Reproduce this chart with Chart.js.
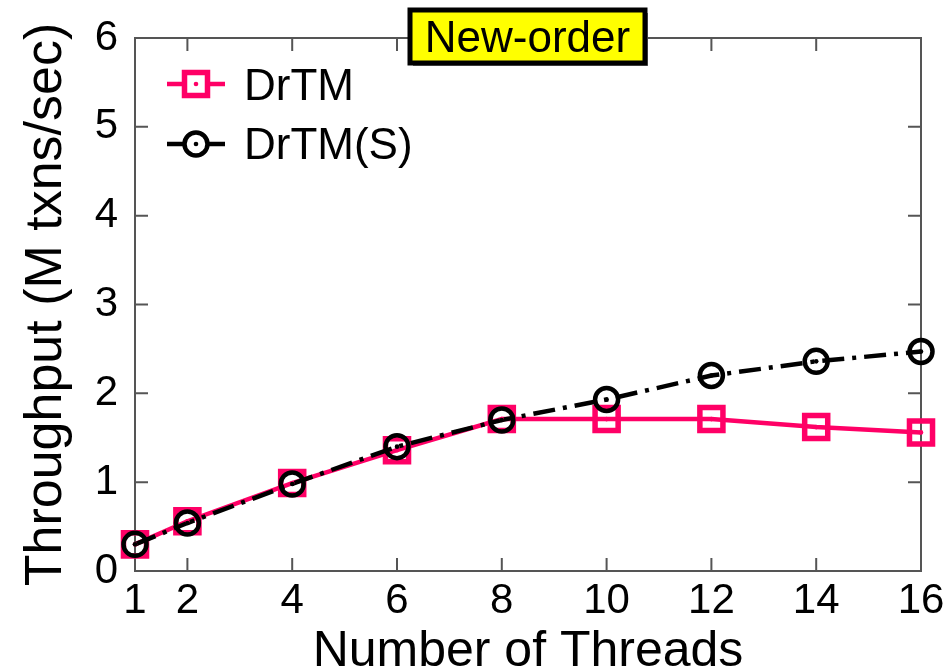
<!DOCTYPE html>
<html>
<head>
<meta charset="utf-8">
<script src="https://cdn.jsdelivr.net/npm/chart.js@4"></script>
<style>
  html, body { margin: 0; padding: 0; background: #fff; }
  #wrap { width: 947px; height: 671px; }
</style>
</head>
<body>
<div id="wrap"><canvas id="canvas-1" width="947" height="671"></canvas></div>
<script>
var threads = [1, 2, 4, 6, 8, 10, 12, 14, 16];
var drtm = [0.30, 0.56, 0.99, 1.36, 1.71, 1.71, 1.71, 1.62, 1.56];
var drtmS = [0.30, 0.54, 0.98, 1.40, 1.70, 1.93, 2.20, 2.36, 2.47];
var yTicks = [0, 1, 2, 3, 4, 5, 6];

var FONT = "'Liberation Sans', Arial, sans-serif";
var PINK = '#ff0066';

function toPoints(ys) {
    return threads.map(function (t, i) { return { x: t, y: ys[i] }; });
}

// frame, inward ticks on all four sides, centre dots, legend and the boxed title
var decorations = {
    id: 'decorations',
    beforeDatasetsDraw: function (chart) {
        var ctx = chart.ctx;
        var a = chart.chartArea;
        var xs = chart.scales.x, ys = chart.scales.y;

        ctx.save();
        ctx.strokeStyle = '#555';
        ctx.lineWidth = 2;
        ctx.beginPath();
        threads.forEach(function (t) {
            var px = xs.getPixelForValue(t);
            ctx.moveTo(px, a.bottom); ctx.lineTo(px, a.bottom - 13);
            ctx.moveTo(px, a.top); ctx.lineTo(px, a.top + 13);
        });
        yTicks.forEach(function (v) {
            var py = ys.getPixelForValue(v);
            ctx.moveTo(a.left, py); ctx.lineTo(a.left + 13, py);
            ctx.moveTo(a.right, py); ctx.lineTo(a.right - 13, py);
        });
        ctx.stroke();
        ctx.strokeRect(a.left, a.top, a.right - a.left, a.bottom - a.top);
        ctx.restore();
    },
    afterDatasetsDraw: function (chart) {
        var ctx = chart.ctx;
        ctx.save();

        // small dot in the middle of every marker
        chart.data.datasets.forEach(function (ds, i) {
            ctx.fillStyle = ds.borderColor;
            chart.getDatasetMeta(i).data.forEach(function (pt) {
                ctx.beginPath();
                ctx.arc(pt.x, pt.y, 2.3, 0, Math.PI * 2);
                ctx.fill();
            });
        });

        // legend
        var rows = [84, 144];
        var baselines = [100, 159];
        chart.data.datasets.forEach(function (ds, i) {
            var y = rows[i];
            ctx.strokeStyle = ds.borderColor;
            ctx.lineWidth = 4.5;
            ctx.setLineDash([]);
            ctx.beginPath();
            ctx.moveTo(167, y); ctx.lineTo(225, y);
            ctx.stroke();
            ctx.fillStyle = '#fff';
            ctx.lineWidth = ds.pointBorderWidth;
            ctx.beginPath();
            if (ds.pointStyle === 'rect') {
                ctx.rect(196 - 11.5, y - 11.5, 23, 23);
            } else {
                ctx.arc(196, y, 11.5, 0, Math.PI * 2);
            }
            ctx.fill();
            ctx.stroke();
            ctx.fillStyle = ds.borderColor;
            ctx.beginPath();
            ctx.arc(196, y, 2.3, 0, Math.PI * 2);
            ctx.fill();
            ctx.fillStyle = '#000';
            ctx.font = '44px ' + FONT;
            ctx.textAlign = 'left';
            ctx.textBaseline = 'alphabetic';
            ctx.fillText(ds.label, 244, baselines[i]);
        });

        // title box with a drop shadow
        var bx = 410, by = 10, bw = 235, bh = 53;
        ctx.fillStyle = '#777';
        ctx.fillRect(bx + 3, by + 3, bw, bh);
        ctx.fillStyle = '#ffff00';
        ctx.fillRect(bx, by, bw, bh);
        ctx.strokeStyle = '#000';
        ctx.lineWidth = 5;
        ctx.strokeRect(bx, by, bw, bh);
        ctx.fillStyle = '#000';
        ctx.font = '44px ' + FONT;
        ctx.textAlign = 'center';
        ctx.textBaseline = 'alphabetic';
        ctx.fillText('New-order', bx + bw / 2, 52);
        ctx.restore();
    }
};

new Chart(document.getElementById('canvas-1'), {
    type: 'line',
    data: {
        datasets: [{
            label: 'DrTM',
            data: toPoints(drtm),
            order: 2,
            clip: false,
            borderColor: PINK,
            backgroundColor: '#fff',
            borderWidth: 4.5,
            pointStyle: 'rect',
            pointRadius: 16.3,
            pointBorderWidth: 5.5,
            pointBackgroundColor: 'rgba(255,255,255,0)',
            pointBorderColor: PINK,
            tension: 0
        }, {
            label: 'DrTM(S)',
            data: toPoints(drtmS),
            order: 1,
            clip: false,
            borderColor: '#000',
            backgroundColor: '#fff',
            borderWidth: 4.5,
            borderDash: [22, 8, 4, 8],
            pointStyle: 'circle',
            pointRadius: 11.5,
            pointBorderWidth: 4.5,
            pointBackgroundColor: 'rgba(255,255,255,0)',
            pointBorderColor: '#000',
            tension: 0
        }]
    },
    options: {
        responsive: false,
        animation: false,
        layout: { padding: { top: 38, right: 26, left: 0, bottom: 0 } },
        plugins: {
            legend: { display: false },
            tooltip: { enabled: false }
        },
        scales: {
            x: {
                type: 'linear',
                min: 1,
                max: 16,
                afterBuildTicks: function (axis) {
                    axis.ticks = threads.map(function (t) { return { value: t }; });
                },
                afterFit: function (axis) {
                    axis.height = 100;
                    axis.paddingLeft = 0;
                    axis.paddingRight = 0;
                },
                grid: { display: false, drawTicks: false },
                border: { display: false },
                ticks: {
                    autoSkip: false,
                    maxRotation: 0,
                    padding: 5,
                    color: '#000',
                    font: { family: FONT, size: 42 }
                },
                title: {
                    display: true,
                    text: 'Number of Threads',
                    color: '#000',
                    font: { family: FONT, size: 50, lineHeight: 0.6 },
                    padding: { top: 0, bottom: 4 }
                }
            },
            y: {
                min: 0,
                max: 6,
                afterBuildTicks: function (axis) {
                    axis.ticks = yTicks.map(function (v) { return { value: v }; });
                },
                afterFit: function (axis) {
                    axis.width = 135;
                    axis.paddingTop = 0;
                    axis.paddingBottom = 0;
                },
                grid: { display: false, drawTicks: false },
                border: { display: false },
                ticks: {
                    padding: 17,
                    color: '#000',
                    font: { family: FONT, size: 42 }
                },
                title: {
                    display: true,
                    text: 'Throughput (M txns/sec)',
                    color: '#000',
                    font: { family: FONT, size: 52, lineHeight: 1 },
                    padding: { top: 21, bottom: 0 }
                }
            }
        }
    },
    plugins: [decorations]
});
</script>
</body>
</html>
